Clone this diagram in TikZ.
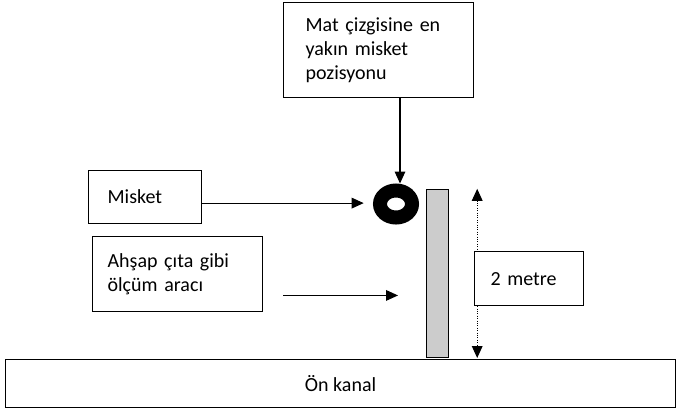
\documentclass[tikz,border=0pt]{standalone}
\usepackage{fontspec}
\setmainfont{Carlito}
\usetikzlibrary{positioning, arrows.meta, shapes.geometric}

\begin{document}
\begin{tikzpicture}[
        x=0.75pt, y=-0.75pt,
        font=\fontsize{15}{18}\selectfont,
        box/.style={rectangle, draw, line width=0.9pt, fill=white, align=left, anchor=north west, inner ysep=0pt},
        arrow/.style={-{Triangle[length=9pt,width=8pt]}, line width=0.8pt},
        measure/.style={{Triangle[length=9pt,width=8pt]}-{Triangle[length=9pt,width=8pt]}, densely dotted, line width=0.8pt}
      ]
        \useasboundingbox (0,0) rectangle (677,411);

        % Boxes
        \node[box, text width=109.5pt, inner xsep=16.5pt, minimum height=71.25pt] (closest) at (283,2) {Mat çizgisine en\\yakın misket\\pozisyonu};
        \node[box, text width=56.25pt, inner xsep=14.25pt, minimum height=39.75pt] (marble) at (88,170) {Misket};
        \node[box, text width=105pt, inner xsep=11.25pt, minimum height=56.25pt] (tool) at (92,236) {Ahşap çıta gibi\\ölçüm aracı\\[14pt]};
        \node[rectangle, draw, line width=0.9pt, minimum width=502.5pt, minimum height=36pt, anchor=north west] (channel) at (5,359) {Ön kanal};

        % Marble and stick
        \node[ellipse, draw, line width=10.5pt, minimum width=24pt, minimum height=20.25pt, inner sep=0pt] (ring) at (396,204) {};
        \node[rectangle, draw, line width=0.9pt, fill=gray!40, minimum width=16.5pt, minimum height=126pt, anchor=south west, inner sep=0pt] (stick) at (426,358) {};

        % Arrows
        \draw[arrow] ([xshift=3pt]closest.south -| ring.north) -- ([xshift=3pt]ring.north);
        \draw[arrow] ([yshift=-4.5pt]marble.east) -- ([xshift=-7pt,yshift=-4.5pt]marble.east -| ring.west);
        \draw[arrow] ([xshift=15pt,yshift=-16pt]tool.east) -- ([xshift=-21pt,yshift=-16pt]tool.east -| stick.west);
        \draw[measure] ([xshift=21pt]stick.north east) -- ([xshift=21pt]stick.south east);

        % Length
        \node[box, text width=57.75pt, inner xsep=12pt, minimum height=40.5pt] (length) at (474,251) {2 metre};

      \end{tikzpicture}
\end{document}
